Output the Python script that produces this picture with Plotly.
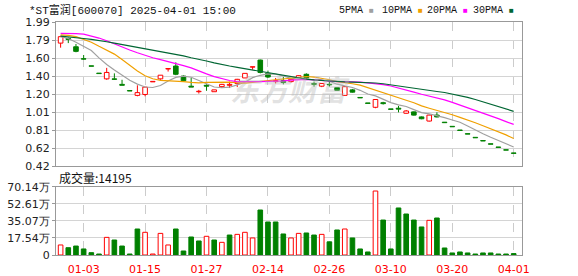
import plotly.graph_objects as go

title_text = "*ST富润[600070] 2025-04-01 15:00"
vol_label = "成交量:14195"
dates = ["12-30","12-31","01-02","01-03","01-06","01-07","01-08","01-09","01-10","01-13",
         "01-14","01-15","01-16","01-17","01-20","01-21","01-22","01-23","01-24","01-27",
         "02-05","02-06","02-07","02-10","02-11","02-12","02-13","02-14","02-17","02-18",
         "02-19","02-20","02-21","02-24","02-25","02-26","02-27","02-28","03-03","03-04",
         "03-05","03-06","03-07","03-10","03-11","03-12","03-13","03-14","03-17","03-18",
         "03-19","03-20","03-21","03-24","03-25","03-26","03-27","03-28","03-31","04-01"]
opens = [1.76, 1.81, 1.72, 1.59, 1.51, 1.43, 1.37, 1.37, 1.31, 1.24,
         1.19, 1.20, 1.34, 1.37, 1.48, 1.51, 1.40, 1.29, 1.23, 1.30,
         1.23, 1.285, 1.30, 1.32, 1.38, 1.50, 1.575, 1.43, 1.34, 1.35,
         1.34, 1.385, 1.42, 1.32, 1.29, 1.31, 1.275, 1.19, 1.25, 1.165,
         1.105, 1.06, 1.11, 1.04, 1.05, 0.995, 1.01, 0.955, 0.91, 0.975,
         0.895, 0.85, 0.81, 0.77, 0.73, 0.695, 0.66, 0.625, 0.595, 0.56]
highs = [1.84, 1.82, 1.75, 1.63, 1.51, 1.43, 1.49, 1.43, 1.36, 1.24,
         1.30, 1.28, 1.34, 1.41, 1.48, 1.55, 1.41, 1.38, 1.25, 1.31,
         1.25, 1.315, 1.34, 1.37, 1.43, 1.50, 1.58, 1.46, 1.38, 1.39,
         1.37, 1.41, 1.43, 1.34, 1.32, 1.34, 1.28, 1.29, 1.26, 1.165,
         1.105, 1.15, 1.12, 1.04, 1.075, 1.03, 1.015, 0.96, 0.98, 1.005,
         0.895, 0.85, 0.81, 0.77, 0.73, 0.695, 0.66, 0.625, 0.595, 0.56]
lows = [1.71, 1.76, 1.66, 1.58, 1.51, 1.43, 1.36, 1.36, 1.30, 1.24,
        1.18, 1.18, 1.34, 1.36, 1.45, 1.41, 1.35, 1.28, 1.21, 1.24,
        1.23, 1.27, 1.27, 1.28, 1.38, 1.47, 1.43, 1.38, 1.32, 1.31,
        1.33, 1.38, 1.37, 1.285, 1.28, 1.285, 1.24, 1.19, 1.22, 1.165,
        1.105, 1.05, 1.09, 1.04, 1.005, 0.99, 0.97, 0.93, 0.905, 0.95,
        0.895, 0.85, 0.81, 0.77, 0.73, 0.695, 0.66, 0.625, 0.595, 0.56]
closes = [1.83, 1.80, 1.67, 1.585, 1.51, 1.43, 1.44, 1.365, 1.30, 1.24,
          1.22, 1.28, 1.34, 1.41, 1.48, 1.42, 1.35, 1.28, 1.235, 1.29,
          1.25, 1.31, 1.31, 1.365, 1.43, 1.50, 1.44, 1.39, 1.35, 1.33,
          1.365, 1.405, 1.38, 1.31, 1.32, 1.305, 1.245, 1.285, 1.225, 1.165,
          1.105, 1.145, 1.10, 1.04, 1.04, 1.02, 0.975, 0.935, 0.975, 0.955,
          0.895, 0.85, 0.81, 0.77, 0.73, 0.695, 0.66, 0.625, 0.595, 0.56]
volumes = [10.3, 7.5, 9.2, 6.2, 2.4, 1.0, 18.1, 15.4, 9.2, 1.0,
           26.7, 23.3, 1.0, 22.2, 10.3, 26.7, 4.1, 18.5, 14.4, 19.2,
           15.4, 13.0, 20.5, 21.2, 23.3, 17.5, 46.2, 33.9, 33.9, 21.6,
           17.5, 22.2, 22.6, 20.5, 21.2, 13.5, 25.7, 26.7, 17.5, 6.2,
           3.1, 65.7, 35.9, 6.2, 48.3, 42.1, 35.9, 28.8, 35.6, 38.0,
           7.2, 2.1, 3.1, 2.1, 1.0, 2.1, 2.1, 1.0, 1.0, 1.42]
vol_up = [1,0,0,0,0,0,1,0,0,0, 0,1,1,1,1,0,0,0,0,1, 0,1,0,1,1,1,0,0,0,0,
          1,1,0,0,1,0,0,1,0,0, 0,1,0,0,0,0,0,0,1,0, 0,0,0,0,0,0,0,0,0,0]
ma5 = [1.83, 1.81, 1.77, 1.72, 1.679, 1.599, 1.527, 1.466, 1.409, 1.355,
       1.313, 1.281, 1.276, 1.298, 1.346, 1.386, 1.400, 1.388, 1.353, 1.315,
       1.281, 1.273, 1.279, 1.305, 1.333, 1.383, 1.409, 1.425, 1.422, 1.402,
       1.375, 1.368, 1.366, 1.358, 1.356, 1.344, 1.312, 1.293, 1.276, 1.245,
       1.205, 1.185, 1.148, 1.111, 1.086, 1.069, 1.035, 1.002, 0.989, 0.972,
       0.947, 0.922, 0.897, 0.856, 0.811, 0.771, 0.733, 0.696, 0.661, 0.627]
ma10 = [1.85, 1.845, 1.83, 1.80, 1.77, 1.725, 1.68, 1.64, 1.58, 1.517,
        1.456, 1.404, 1.371, 1.354, 1.351, 1.350, 1.341, 1.332, 1.326, 1.331,
        1.334, 1.337, 1.334, 1.329, 1.324, 1.332, 1.341, 1.352, 1.364, 1.368,
        1.379, 1.389, 1.396, 1.390, 1.379, 1.360, 1.340, 1.330, 1.317, 1.301,
        1.275, 1.249, 1.221, 1.194, 1.166, 1.137, 1.110, 1.075, 1.050, 1.029,
        1.008, 0.979, 0.950, 0.923, 0.892, 0.859, 0.828, 0.797, 0.759, 0.719]
ma20 = [1.865, 1.866, 1.864, 1.858, 1.84, 1.815, 1.785, 1.75, 1.715, 1.685,
        1.655, 1.625, 1.60, 1.58, 1.56, 1.54, 1.515, 1.49, 1.455, 1.424,
        1.395, 1.370, 1.352, 1.341, 1.337, 1.341, 1.341, 1.342, 1.345, 1.349,
        1.356, 1.363, 1.365, 1.360, 1.352, 1.346, 1.341, 1.341, 1.340, 1.334,
        1.327, 1.319, 1.308, 1.292, 1.272, 1.248, 1.225, 1.202, 1.184, 1.165,
        1.141, 1.114, 1.085, 1.058, 1.029, 0.998, 0.969, 0.936, 0.904, 0.874]
ma30 = [1.837, 1.83, 1.82, 1.81, 1.80, 1.79, 1.775, 1.76, 1.745, 1.73,
        1.715, 1.70, 1.685, 1.67, 1.655, 1.64, 1.62, 1.60, 1.585, 1.565,
        1.545, 1.525, 1.51, 1.495, 1.48, 1.47, 1.455, 1.44, 1.425, 1.405,
        1.390, 1.376, 1.367, 1.358, 1.351, 1.347, 1.341, 1.338, 1.335, 1.333,
        1.329, 1.325, 1.317, 1.304, 1.290, 1.276, 1.264, 1.252, 1.244, 1.232,
        1.221, 1.205, 1.189, 1.169, 1.145, 1.119, 1.093, 1.067, 1.042, 1.016]
price_ticks = ["0.42", "0.62", "0.81", "1.01", "1.20", "1.40", "1.60", "1.79", "1.99"]
price_min, price_max = 0.42, 1.99
vol_ticks = ["0", "17.54万", "35.07万", "52.61万", "70.14万"]
vol_max = 70.14
xtick_dates = ["01-03", "01-15", "01-27", "02-14", "02-26", "03-10", "03-20", "04-01"]
ma_names = ["5PMA", "10PMA", "20PMA", "30PMA"]
ma_colors = ["#a0a0a0", "#f0a000", "#ff00ff", "#006633"]

RED = "#ff0000"
GREEN = "#008000"

# geometry (pixels)
W, H = 578, 276
ML, MR, MT, MB = 56, 56, 22, 21
plot_h = H - MT - MB

def py(p):
    return (H - MB - p) / plot_h

def px(p):
    return (p - ML) / (W - ML - MR)

n = len(dates)
idx = list(range(n))

up = []
for i in idx:
    if closes[i] > opens[i]:
        up.append(True)
    elif closes[i] < opens[i]:
        up.append(False)
    else:
        prev = closes[i - 1] if i > 0 else opens[i]
        up.append(closes[i] >= prev)

fig = go.Figure()

min_h = 0.005
for flag, fill, col in [(True, "white", RED), (False, GREEN, GREEN)]:
    xs, bases, hs = [], [], []
    for i in idx:
        if up[i] != flag:
            continue
        lo, hi = min(opens[i], closes[i]), max(opens[i], closes[i])
        d = hi - lo
        if d < min_h:
            lo = lo - (min_h - d) / 2
            d = min_h
        xs.append(i); bases.append(lo); hs.append(d)
    fig.add_trace(go.Bar(x=xs, y=hs, base=bases, width=0.6,
                         marker=dict(color=fill, line=dict(color=col, width=1)),
                         xaxis="x", yaxis="y", showlegend=False, hoverinfo="skip"))
    wx, wy = [], []
    for i in idx:
        if up[i] != flag:
            continue
        lo, hi = min(opens[i], closes[i]), max(opens[i], closes[i])
        if highs[i] > hi:
            wx += [i, i, None]; wy += [hi, highs[i], None]
        if lows[i] < lo:
            wx += [i, i, None]; wy += [lows[i], lo, None]
    fig.add_trace(go.Scatter(x=wx, y=wy, mode="lines", line=dict(color=col, width=1),
                             xaxis="x", yaxis="y", showlegend=False, hoverinfo="skip"))

for name, vals, col in zip(ma_names, [ma5, ma10, ma20, ma30], ma_colors):
    fig.add_trace(go.Scatter(x=idx, y=vals, mode="lines", name=name,
                             line=dict(color=col, width=1.2),
                             xaxis="x", yaxis="y", showlegend=False, hoverinfo="skip"))

for flag, fill, col in [(1, "white", RED), (0, GREEN, GREEN)]:
    xs = [i for i in idx if vol_up[i] == flag]
    ys = [volumes[i] for i in xs]
    fig.add_trace(go.Bar(x=xs, y=ys, width=0.6,
                         marker=dict(color=fill, line=dict(color=col, width=1)),
                         xaxis="x2", yaxis="y2", showlegend=False, hoverinfo="skip"))

tick_idx = [dates.index(d) for d in xtick_dates]
ntk = len(price_ticks)
price_vals = [price_min + k * (price_max - price_min) / (ntk - 1) for k in range(ntk)]
nvt = len(vol_ticks)
vol_vals = [k * vol_max / (nvt - 1) for k in range(nvt)]

xrange = [-0.6, 60.08]
frame = "#999999"
grid = "#d4d4d4"
vgrid = "#cccccc"
axfont = dict(family="DejaVu Sans", size=11, color="#222222")

price_dom = [py(166), 1.0]
vol_dom = [0.0, py(186.7)]

fig.update_layout(
    width=W, height=H,
    margin=dict(l=ML, r=MR, t=MT, b=MB, pad=0, autoexpand=False),
    paper_bgcolor="white", plot_bgcolor="white",
    barmode="overlay",
    showlegend=False,
    xaxis=dict(domain=[0, 1], range=xrange, anchor="y", tickvals=tick_idx,
               showticklabels=False, showgrid=True, gridcolor=vgrid, griddash="dash",
               gridwidth=1, zeroline=False, showline=True, mirror=True,
               linecolor=frame, linewidth=1, ticks="", automargin=False),
    yaxis=dict(domain=price_dom, range=[price_min, price_max], tickvals=price_vals,
               ticktext=price_ticks, showgrid=True, gridcolor=grid, gridwidth=1,
               zeroline=False, showline=True, mirror=True, linecolor=frame,
               linewidth=1, ticks="outside", ticklen=3, tickcolor=frame,
               tickfont=axfont, automargin=False),
    xaxis2=dict(domain=[0, 1], range=xrange, anchor="y2", tickvals=tick_idx,
                ticktext=xtick_dates, showgrid=True, gridcolor=vgrid, griddash="dash",
                gridwidth=1, zeroline=False, showline=True, mirror=True,
                linecolor=frame, linewidth=1, ticks="", automargin=False,
                ticklabelstandoff=4,
                tickfont=dict(family="DejaVu Sans", size=11, color=RED)),
    yaxis2=dict(domain=vol_dom, range=[0, vol_max], tickvals=vol_vals,
                ticktext=vol_ticks, showgrid=True, gridcolor=grid, gridwidth=1,
                zeroline=False, showline=True, mirror=True, linecolor=frame,
                linewidth=1, ticks="outside", ticklen=3, tickcolor=frame,
                tickfont=axfont, automargin=False),
)

ann = []
ann.append(dict(text=title_text, x=px(27), y=py(10), xref="paper", yref="paper",
                xanchor="left", yanchor="middle", showarrow=False,
                font=dict(family="Liberation Mono, Noto Sans CJK SC", size=11, color="#111111")))
ann.append(dict(text=vol_label, x=px(57), y=py(177), xref="paper", yref="paper",
                xanchor="left", yanchor="middle", showarrow=False,
                font=dict(family="Noto Sans CJK SC", size=12, color="#111111")))
legend_x = [337, 380, 425, 471]
for name, col, lx in zip(ma_names, ma_colors, legend_x):
    ann.append(dict(text=name + " <span style='color:%s;font-size:8px'>■</span>" % col,
                    x=px(lx), y=py(11), xref="paper", yref="paper",
                    xanchor="left", yanchor="middle", showarrow=False,
                    font=dict(family="Liberation Mono", size=10, color="#111111")))
ann.append(dict(text="东方财富", x=px(290), y=py(88), xref="paper", yref="paper",
                xanchor="center", yanchor="middle", showarrow=False,
                font=dict(family="Noto Sans CJK SC", size=29, color="rgba(185,185,185,0.42)",
                          weight="bold", style="italic")))
fig.update_layout(annotations=ann)

fig.write_html("out.html")
